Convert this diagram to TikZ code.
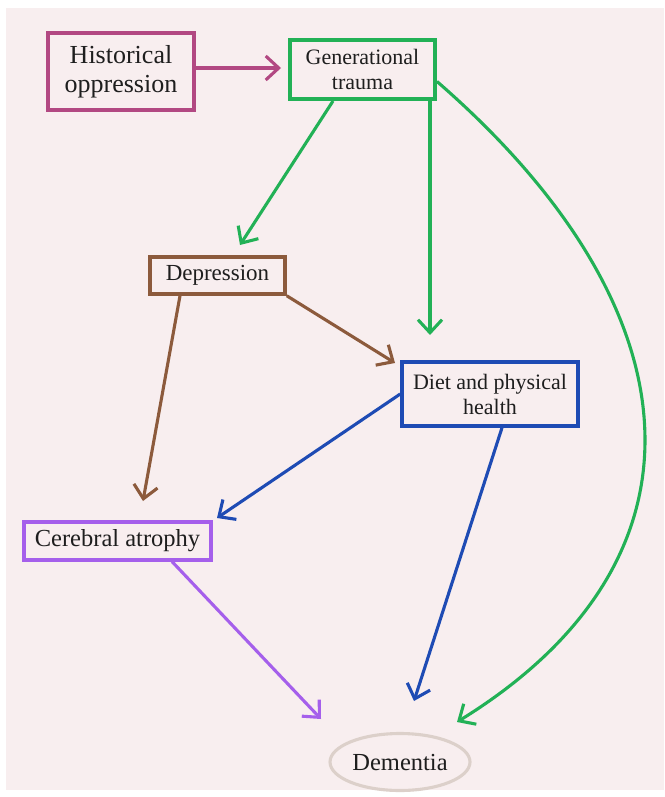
\documentclass[tikz,border=0pt]{standalone}
\usepackage{fontspec}
\setmainfont{Liberation Serif}
\usetikzlibrary{arrows.meta,shapes.geometric}
\definecolor{bgpink}{RGB}{248,238,239}
\definecolor{cmag}{RGB}{178,72,130}
\definecolor{cgreen}{RGB}{34,177,86}
\definecolor{cbrown}{RGB}{140,90,60}
\definecolor{cblue}{RGB}{30,75,180}
\definecolor{cpurple}{RGB}{165,95,235}
\definecolor{cdem}{RGB}{220,208,202}
\definecolor{ctext}{RGB}{30,30,30}
\tikzset{
  box/.style={draw, rectangle, align=center, inner sep=0pt, text=ctext},
  conn/.style={line width=3.1pt, -{Straight Barb[length=13pt,width=24pt]}},
}
\begin{document}
\begin{tikzpicture}[x=1pt,y=-1pt]
\useasboundingbox (0,0) rectangle (664,797);
\fill[white] (0,0) rectangle (664,797);
\fill[bgpink] (6,8) rectangle (664,790);

\node[box, draw=cmag, line width=3.1pt, minimum width=146pt, minimum height=77pt,
  font=\fontsize{26}{29}\selectfont] (ho) at (121,71.5) {Historical\\oppression};
\node[box, draw=cgreen, line width=4pt, minimum width=145pt, minimum height=59pt,
  font=\fontsize{22}{25}\selectfont] (gt) at (362.5,69.5) {Generational\\trauma};
\node[box, draw=cbrown, line width=3.5pt, minimum width=135pt, minimum height=37pt,
  font=\fontsize{23}{26}\selectfont] (dep) at (217.5,275.5) {Depression};
\node[box, draw=cblue, line width=3.5pt, minimum width=176pt, minimum height=64pt,
  font=\fontsize{22}{25}\selectfont] (diet) at (490,394) {Diet and physical\\health};
\node[box, draw=cpurple, line width=3.1pt, minimum width=187pt, minimum height=38pt,
  font=\fontsize{24.5}{27}\selectfont] (cer) at (117.5,541) {Cerebral atrophy};
\node[draw=cdem, ellipse, line width=3.1pt, minimum width=140pt, minimum height=57pt,
  inner sep=0pt, text=ctext, font=\fontsize{24.5}{27}\selectfont] (dem) at (400,762) {Dementia};

% arrow tips (free ends)
\coordinate (tGT) at (281,68);
\coordinate (tDep) at (240,245);
\coordinate (tDietA) at (430,335);
\coordinate (tDietB) at (395,363);
\coordinate (tCerA) at (143,501);
\coordinate (tCerB) at (217,518);
\coordinate (tDemA) at (321,719);
\coordinate (tDemB) at (414,701);
\coordinate (tDemC) at (457,722);

\draw[conn, cmag] ([yshift=3.5pt]ho.east) -- (tGT);
\draw[conn, cgreen] ([xshift=-29.5pt]gt.south) -- (tDep);
\draw[conn, cgreen] ([xshift=67.5pt]gt.south) -- (tDietA);
\draw[conn, cgreen] ([yshift=-12pt]gt.east) .. controls (700,310) and (720,560) .. (tDemC);
\draw[conn, cbrown] ([xshift=-37.5pt]dep.south) -- (tCerA);
\draw[conn, cbrown] (dep.south east) -- (tDietB);
\draw[conn, cblue] (diet.west) -- (tCerB);
\draw[conn, cblue] ([xshift=12pt]diet.south) -- (tDemB);
\draw[conn, cpurple] ([xshift=54.5pt]cer.south) -- (tDemA);
\end{tikzpicture}
\end{document}
